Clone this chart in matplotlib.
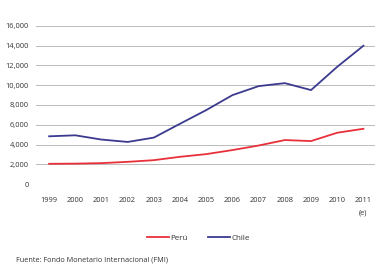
import matplotlib.pyplot as plt
from matplotlib.ticker import FuncFormatter

plt.rcParams['font.family'] = ['Open Sans', 'DejaVu Sans']

years = [1999, 2000, 2001, 2002, 2003, 2004, 2005, 2006, 2007, 2008, 2009, 2010, 2011]
peru = [2050, 2070, 2120, 2250, 2420, 2760, 3030, 3440, 3900, 4450, 4350, 5190, 5590]
chile = [4830, 4930, 4500, 4260, 4700, 6100, 7480, 8990, 9900, 10200, 9500, 11850, 13980]
yticks = [0, 2000, 4000, 6000, 8000, 10000, 12000, 14000, 16000]

RED = "#e8303a"
NAVY = "#3b3a8f"
GRID = "#bababa"
TXT = "#333333"

fig = plt.figure(figsize=(3.79, 2.68), dpi=100)
ax = fig.add_axes([0.095, 0.313, 0.895, 0.591])

ax.plot(years, peru, color=RED, linewidth=1.3, label="Perú", zorder=3)
ax.plot(years, chile, color=NAVY, linewidth=1.3, label="Chile", zorder=3)

ax.set_xlim(1998.5, 2011.45)
ax.set_ylim(0, 16000)
ax.set_yticks(yticks)
ax.set_xticks(years)
ax.yaxis.set_major_formatter(FuncFormatter(lambda v, p: f"{int(v):,}"))
ax.grid(True, axis="y", color=GRID, linewidth=0.7)
ax.set_axisbelow(True)
for s in ax.spines.values():
    s.set_visible(False)
ax.tick_params(length=0, labelsize=5.4, colors=TXT, pad=5)
ax.tick_params(axis="x", pad=9)

ax.text(2011, -0.18, "(e)", transform=ax.get_xaxis_transform(),
        ha="center", va="center", fontsize=5.4, color=TXT)

fig.legend(loc="center", bbox_to_anchor=(0.523, 0.112), ncol=2, frameon=False,
           fontsize=5.8, handlelength=2.7, columnspacing=2.5, handletextpad=0.2,
           labelcolor=TXT)

fig.text(0.042, 0.028, "Fuente: Fondo Monetario Internacional (FMI)",
         fontsize=5.2, color=TXT, va="center")

fig.savefig("out.png", dpi=100)
